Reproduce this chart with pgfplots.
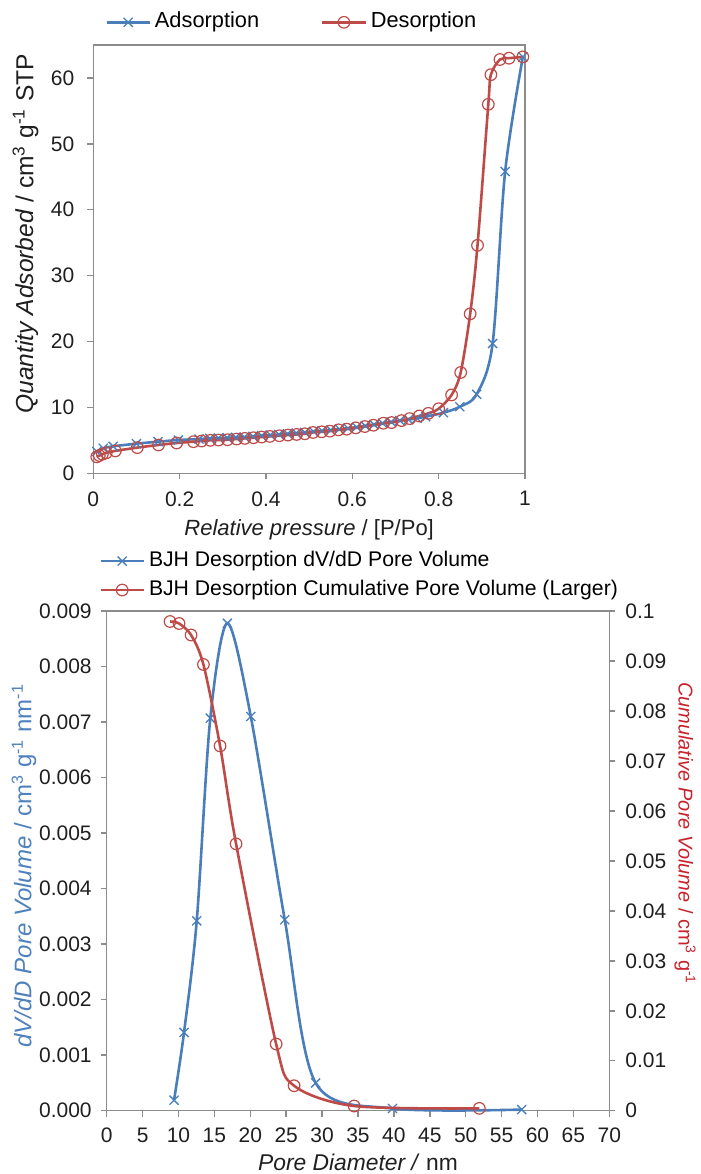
\documentclass[border=0pt]{standalone}
\usepackage{fontspec}
\setmainfont{Liberation Sans}
\usepackage{pgfplots}
\pgfplotsset{compat=1.18}
\definecolor{serblue}{HTML}{4A7EBB}
\definecolor{serred}{HTML}{BE4B48}
\definecolor{axgray}{HTML}{8C8C8C}
\definecolor{txt}{HTML}{1F1F1F}
\definecolor{lblblue}{HTML}{4F81BD}
\definecolor{lblred}{HTML}{C8232C}

\pgfplotsset{
  exstyle/.style={
    scale only axis,
    /pgf/number format/assume math mode=true,
    font=\fontsize{10.5}{12.6}\selectfont,
    axis line style={axgray, line width=0.75pt},
    every tick/.style={axgray, line width=0.75pt},
    tick align=outside,
    major tick length=3pt,
    clip=false,
    scaled ticks=false,
    legend cell align=left,
    tick label style={txt},
    label style={txt},
    legend image code/.code={\draw[mark repeat=2,mark phase=2] plot coordinates {(0pt,0pt) (10.75pt,0pt) (21.5pt,0pt)};},
  },
  adsstyle/.style={serblue, line width=1.3pt, smooth, tension=0.5, mark=x, mark size=3.2pt, mark options={line width=0.65pt, solid}},
  desstyle/.style={serred, line width=1.3pt, smooth, tension=0.5, mark=o, mark size=2.9pt, mark options={line width=0.6pt, solid}},
}
\begin{document}
\begin{tikzpicture}
\useasboundingbox (0pt,0pt) rectangle (350.5pt,-587pt);
% ---------------- top chart ----------------
\begin{axis}[exstyle,
  at={(46.65pt,-236.65pt)}, anchor=south west,
  width=215.85pt, height=214.15pt,
  xmin=0, xmax=1, ymin=0, ymax=65,
  xtick={0,0.2,0.4,0.6,0.8,1}, ytick={0,10,20,30,40,50,60},
  tick pos=left,
  yticklabel style={xshift=-3pt},
  xticklabel style={yshift=-2.5pt},
  xlabel={\textit{Relative pressure} / [P/Po]},
  ylabel={\textit{Quantity Adsorbed} / cm\textsuperscript{3} g\textsuperscript{-1} STP},
  xlabel style={at={(axis description cs:0.5,-0.132)}, anchor=center, font=\fontsize{11}{13}\selectfont},
  ylabel style={at={(axis description cs:-0.157,0.559)}, anchor=center, font=\fontsize{12.3}{14}\selectfont},
  legend columns=2,
  legend style={at={(axis description cs:0.027,1.053)}, anchor=west, draw=none, fill=none, inner sep=0pt,
    font=\fontsize{10.9}{13}\selectfont,
    nodes={inner xsep=2pt, inner ysep=0.5pt, text height=8pt, text depth=2.5pt},
    /tikz/every even column/.append style={column sep=29pt}},
]
\addplot[adsstyle] coordinates {
(0.008,3.3) (0.023,3.8) (0.046,4.1) (0.100,4.5) (0.150,4.8) (0.197,5.05)
(0.245,5.2) (0.27,5.3) (0.29,5.35) (0.31,5.4) (0.33,5.45) (0.35,5.5)
(0.37,5.6) (0.39,5.7) (0.41,5.8) (0.43,5.9) (0.45,6.0) (0.47,6.1)
(0.49,6.2) (0.51,6.35) (0.53,6.45) (0.55,6.55) (0.57,6.7) (0.59,6.85)
(0.61,7.0) (0.63,7.2) (0.65,7.4) (0.67,7.6) (0.69,7.8) (0.71,8.0)
(0.73,8.15) (0.75,8.35) (0.77,8.6) (0.811,9.2) (0.849,10.1) (0.888,12.0)
(0.925,19.7) (0.954,45.8) (0.995,63.2)
};
\addlegendentry{Adsorption}
\addplot[desstyle] coordinates {
(0.008,2.5) (0.014,2.7) (0.021,2.9) (0.030,3.1) (0.051,3.4) (0.102,3.9)
(0.151,4.3) (0.193,4.6) (0.232,4.8) (0.251,4.9) (0.271,5.0) (0.290,5.05)
(0.311,5.1) (0.332,5.2) (0.351,5.3) (0.371,5.4) (0.390,5.5) (0.409,5.6)
(0.431,5.7) (0.451,5.8) (0.471,5.9) (0.490,6.0) (0.509,6.2) (0.529,6.3)
(0.548,6.4) (0.568,6.6) (0.587,6.7) (0.608,6.9) (0.629,7.1) (0.649,7.3)
(0.672,7.6) (0.691,7.7) (0.714,8.0) (0.733,8.3) (0.755,8.7) (0.776,9.1)
(0.800,9.8) (0.830,11.9) (0.851,15.3) (0.873,24.2) (0.890,34.6) (0.915,56.0)
(0.921,60.5) (0.942,62.8) (0.963,63.0) (0.995,63.2)
};
\addlegendentry{Desorption}
\end{axis}
% ---------------- bottom chart, left axis ----------------
\begin{axis}[exstyle,
  at={(53.35pt,-555.35pt)}, anchor=south west,
  width=251.3pt, height=249.85pt,
  xmin=0, xmax=70, ymin=0, ymax=0.009,
  xtick={0,5,10,15,20,25,30,35,40,45,50,55,60,65,70},
  ytick={0,0.001,0.002,0.003,0.004,0.005,0.006,0.007,0.008,0.009},
  tick pos=left,
  yticklabel style={xshift=-1pt, /pgf/number format/.cd, fixed, fixed zerofill, precision=3},
  xticklabel style={yshift=-2pt},
  xlabel={\textit{Pore Diameter /} nm},
  ylabel={\color{lblblue}\textit{dV/dD Pore Volume} / cm\textsuperscript{3} g\textsuperscript{-1} nm\textsuperscript{-1}},
  xlabel style={at={(axis description cs:0.5,-0.1027)}, anchor=center, font=\fontsize{11.4}{13}\selectfont},
  ylabel style={at={(axis description cs:-0.1645,0.49)}, anchor=center, font=\fontsize{12}{14}\selectfont},
  legend style={at={(axis description cs:-0.0153,1.071)}, anchor=west, draw=none, fill=none, inner sep=0pt,
    font=\fontsize{10.6}{13}\selectfont,
    nodes={inner xsep=2pt, inner ysep=0.5pt, text height=8pt, text depth=2.5pt}, row sep=3pt},
]
\addplot[adsstyle] coordinates {
(9.38,0.00019) (10.77,0.00141) (12.54,0.00342) (14.43,0.00707) (16.81,0.00878)
(20.07,0.0071) (24.8,0.00344) (29.1,0.0005) (39.8,0.00004) (57.8,0.00002)
};
\addlegendentry{BJH Desorption dV/dD Pore Volume}
\addlegendimage{desstyle}
\addlegendentry{BJH Desorption Cumulative Pore Volume (Larger)}
\end{axis}
% ---------------- bottom chart, right axis ----------------
\begin{axis}[exstyle,
  at={(53.35pt,-555.35pt)}, anchor=south west,
  width=251.3pt, height=249.85pt,
  xmin=0, xmax=70, ymin=0, ymax=0.1,
  axis y line*=right, axis x line=none,
  ytick={0,0.01,0.02,0.03,0.04,0.05,0.06,0.07,0.08,0.09,0.1},
  yticklabel style={xshift=1.5pt, /pgf/number format/.cd, fixed, precision=2},
  ylabel={\color{lblred}\textit{Cumulative Pore Volume} / cm\textsuperscript{3} g\textsuperscript{-1}},
  ylabel style={at={(axis description cs:1.1506,0.555)}, anchor=center, rotate=180, font=\fontsize{10}{12}\selectfont},
]
\addplot[desstyle] coordinates {
(8.82,0.0979) (10.08,0.0975) (11.75,0.0952) (13.47,0.0893) (15.79,0.0730)
(18.02,0.0534) (23.6,0.01335) (26.1,0.0050) (34.46,0.00094) (51.9,0.00047)
};
\end{axis}
\end{tikzpicture}
\end{document}
